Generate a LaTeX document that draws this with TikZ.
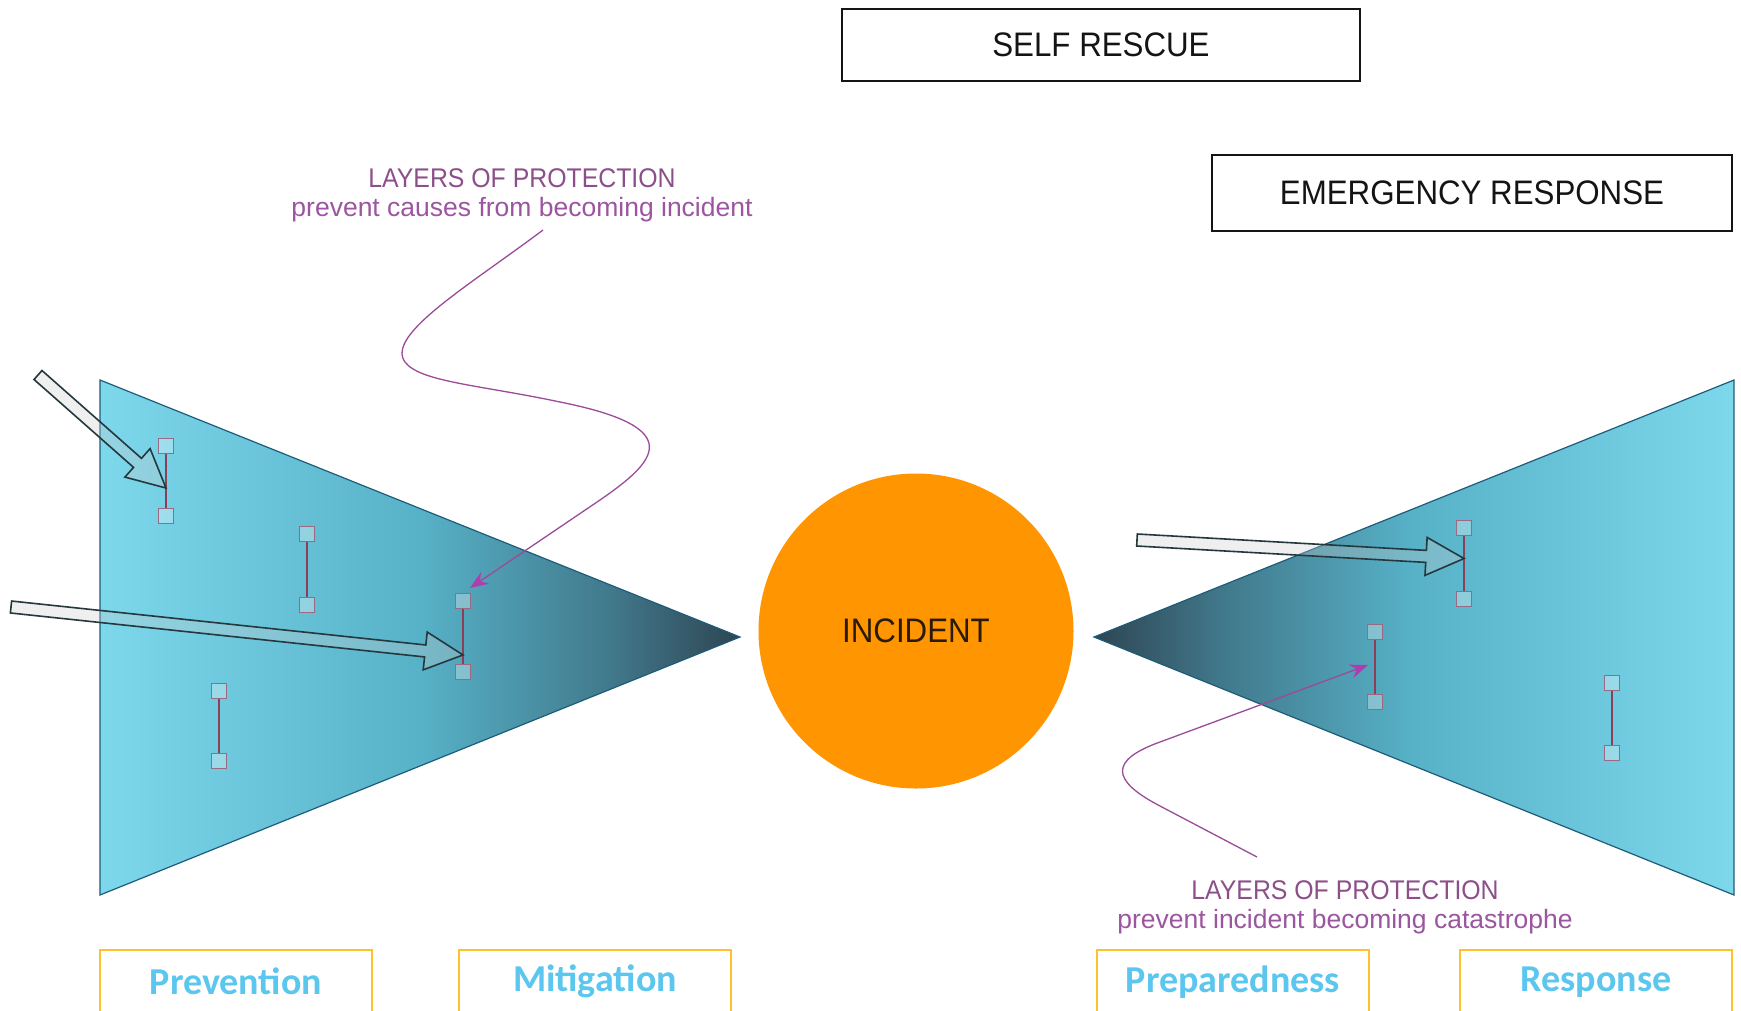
\documentclass[tikz,border=0pt]{standalone}
\usepackage{fontspec}
\setmainfont{Liberation Sans}
\newfontfamily\narrowfont{Liberation Sans}[FakeStretch=0.92]
\newfontfamily\tagfont{Carlito}
\usepackage{xcolor}
\usepackage{tikz}
\usetikzlibrary{calc,positioning,arrows.meta}
\definecolor{ink}{HTML}{141414}
\definecolor{hubfill}{HTML}{FF9500}
\definecolor{hubink}{HTML}{2A1A0A}
\definecolor{coneedge}{HTML}{1D5C7A}
\definecolor{conelight}{HTML}{7DD8EC}
\definecolor{conemid}{HTML}{57B2C8}
\definecolor{conedeep}{HTML}{41788B}
\definecolor{conetip}{HTML}{2E4552}
\definecolor{plum}{HTML}{8C4F8A}
\definecolor{plumlight}{HTML}{9C55A0}
\definecolor{plumline}{HTML}{9A4C98}
\definecolor{tipmagenta}{HTML}{B03CB0}
\definecolor{barred}{HTML}{8E3F58}
\definecolor{gripedge}{HTML}{9A6A82}
\definecolor{tagblue}{HTML}{5BC6EE}
\definecolor{tagedge}{HTML}{FFC12E}
\definecolor{arrowedge}{HTML}{24383D}
\pgfdeclarehorizontalshading{cone}{100bp}{color(0bp)=(conelight); color(25bp)=(conelight); color(50bp)=(conemid); color(65bp)=(conedeep); color(75bp)=(conetip); color(100bp)=(conetip)}
\tikzset{
  conefill/.style={shade, shading=cone, draw=coneedge, line width=1.2pt},
  titlebox/.style={draw=ink, line width=2.2pt, text=ink, inner sep=0pt, font=\narrowfont\fontsize{34}{40}\selectfont},
  tagbox/.style={draw=tagedge, line width=1.5pt, text=tagblue, anchor=north, minimum width=272pt, minimum height=64pt, inner sep=0pt, font=\tagfont\bfseries\fontsize{38}{44}\selectfont},
  hub/.style={circle, fill=hubfill, minimum size=315pt, inner sep=0pt, text=hubink, font=\narrowfont\fontsize{34}{40}\selectfont},
  grip/.style={rectangle, draw=gripedge, fill=white, fill opacity=0.3, line width=1.4pt, minimum size=15pt, inner sep=0pt},
  barline/.style={draw=barred, line width=1.6pt},
  blockarr/.style={draw=arrowedge, line width=1.6pt, fill=gray!40, fill opacity=0.3, line join=miter},
  lophead/.style={text=plum, font=\narrowfont\fontsize{27}{32}\selectfont},
  lopsub/.style={text=plumlight, font=\fontsize{26.5}{32}\selectfont},
  wiggle/.style={draw=plumline, line width=1.3pt, -{Stealth[length=18pt,width=14pt,color=tipmagenta]}},
}
% #1 name, #2 tail, #3 tip
\newcommand{\blockarrow}[3]{%
  \coordinate (#1base) at ($(#3)!38pt!(#2)$);
  \draw[blockarr] ($(#2)!6pt!90:(#3)$) -- ($(#1base)!6pt!90:(#3)$) -- ($(#1base)!19pt!90:(#3)$) -- (#3)
    -- ($(#1base)!19pt!-90:(#3)$) -- ($(#1base)!6pt!-90:(#3)$) -- ($(#2)!6pt!-90:(#3)$) -- cycle;
}

\begin{document}
\begin{tikzpicture}[x=1pt,y=-1pt]
  \path[use as bounding box, fill=white] (0,0) rectangle (1741,1010);

  % bow tie
  \draw[conefill] (100,380) -- (740,637) -- (100,895) -- cycle;
  \draw[conefill, shading angle=180] (1734,380) -- (1094,637) -- (1734,895) -- cycle;
  \node[hub] (incident) at (916,631) {INCIDENT};

  % barriers
  \foreach \n/\x/\ya/\yb in {1/166/446/516, 2/307/534/605, 3/463/601/672, 4/219/691/761,
                             5/1464/528/599, 6/1375/632/702, 7/1612/683/753}{
    \node[grip] (top\n) at (\x,\ya) {};
    \node[grip] (bot\n) at (\x,\yb) {};
    \draw[barline] (top\n) -- (bot\n);
  }

  % threats
  \coordinate (tailA) at (38,375);
  \coordinate (tipA) at ($(top1)!0.6!(bot1)$);
  \coordinate (tailB) at (11,607);
  \coordinate (tipB) at ($(top3)!0.76!(bot3)$);
  \coordinate (tailC) at (1137,540);
  \coordinate (tipC) at ($(top5)!0.43!(bot5)$);
  \blockarrow{A}{tailA}{tipA}
  \blockarrow{B}{tailB}{tipB}
  \blockarrow{C}{tailC}{tipC}

  % labels
  \node[titlebox, minimum width=518pt, minimum height=72pt] (selfrescue) at (1101,45) {SELF RESCUE};
  \node[titlebox, minimum width=520pt, minimum height=76pt] (emergency) at (1472,193) {EMERGENCY RESPONSE};
  \node[lophead] (lopL) at (522,178) {LAYERS OF PROTECTION};
  \node[lopsub] (lopLsub) at (522,210) {prevent causes from becoming incident};
  \node[lophead] (lopR) at (1345,890) {LAYERS OF PROTECTION};
  \node[lopsub] (lopRsub) at (1345,922) {prevent incident becoming catastrophe};

  \coordinate (lopLfoot) at (543,230);
  \coordinate (lopLtip) at (470,588);
  \draw[wiggle] (lopLfoot) .. controls (470,285) and (385,335) .. (405,362)
    .. controls (420,382) and (480,385) .. (560,402)
    .. controls (690,428) and (655,462) .. (600,500) -- (lopLtip);
  \coordinate (lopRfoot) at (1257,857);
  \coordinate (lopRtip) at (1368,665);
  \draw[wiggle] (lopRfoot) -- (1160,806) .. controls (1110,780) and (1110,760) .. (1160,742) -- (lopRtip);

  % phases
  \node[tagbox] (prevention) at (236,949) {Prevention};
  \node[tagbox] (mitigation) at (595,949) {Mitigation};
  \node[tagbox] (preparedness) at (1233,949) {Preparedness};
  \node[tagbox] (response) at (1596,949) {Response};
\end{tikzpicture}
\end{document}
